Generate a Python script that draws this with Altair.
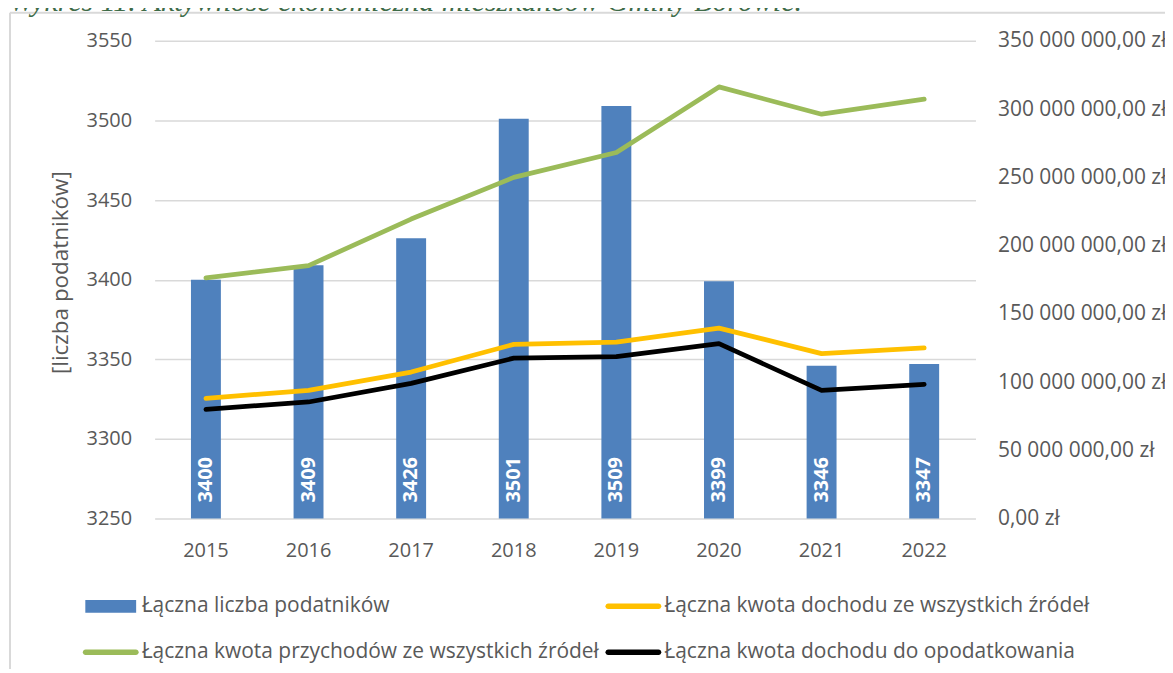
import altair as alt
import pandas as pd

# ---- data ----
years = [2015, 2016, 2017, 2018, 2019, 2020, 2021, 2022]
podatnicy = [3400, 3409, 3426, 3501, 3509, 3399, 3346, 3347]
dochod_wszystkie = [88100000, 93900000, 107300000, 127600000, 129200000, 139500000, 120800000, 125100000]
przychod_wszystkie = [176300000, 185300000, 219400000, 249900000, 268100000, 316200000, 296200000, 307200000]
dochod_opodatk = [80000000, 85400000, 99000000, 117500000, 118600000, 128100000, 93900000, 98300000]

series_names = [
    "Łączna liczba podatników",
    "Łączna kwota dochodu ze wszystkich źródeł",
    "Łączna kwota przychodów ze wszystkich źródeł",
    "Łączna kwota dochodu do opodatkowania",
]
series_colors = ["#4F81BD", "#FFC000", "#9BBB59", "#000000"]
left_ticks = [3250, 3300, 3350, 3400, 3450, 3500, 3550]
right_ticks = [0, 50000000, 100000000, 150000000, 200000000, 250000000, 300000000, 350000000]
title_text = "Wykres 11. Aktywność ekonomiczna mieszkańców Gminy Borowie."
y_title = "[liczba podatników]"

FONT = "Open Sans"
GREY = "#595959"
GRID = "#D9D9D9"

bars_df = pd.DataFrame({"year": years, "count": podatnicy})
lines_df = pd.concat([
    pd.DataFrame({"year": years, "series": series_names[1], "value": dochod_wszystkie}),
    pd.DataFrame({"year": years, "series": series_names[2], "value": przychod_wszystkie}),
    pd.DataFrame({"year": years, "series": series_names[3], "value": dochod_opodatk}),
], ignore_index=True)
legend_df = pd.DataFrame({"series": series_names})

x_enc = alt.X("year:O", title=None,
              scale=alt.Scale(paddingInner=0, paddingOuter=0),
              axis=alt.Axis(labelFont=FONT, labelFontSize=20, labelColor=GREY, labelAngle=0,
                            labelPadding=22, ticks=False, domain=False, grid=False))

y_left_scale = alt.Scale(domain=[3250, 3550], zero=False, nice=False)

bars = alt.Chart(bars_df).mark_bar(size=30, color="#4F81BD").encode(
    x=x_enc,
    y=alt.Y("count:Q", scale=y_left_scale,
            axis=alt.Axis(title=y_title, values=left_ticks, format="d", labelFont=FONT,
                          labelFontSize=20, labelColor=GREY, labelPadding=23, ticks=False,
                          domain=False, grid=True, gridColor=GRID, gridWidth=1.5,
                          titleFont=FONT, titleFontSize=22.5, titleFontWeight="normal",
                          titleColor=GREY, titleX=-94, titleY=232, titleBaseline="middle")),
    y2=alt.datum(3250),
)

bar_text = alt.Chart(bars_df).mark_text(
    angle=270, align="left", baseline="middle", dx=16,
    font=FONT, fontSize=20, fontWeight="bold", color="white"
).encode(
    x=alt.X("year:O"),
    y=alt.datum(3250, scale=y_left_scale),
    text=alt.Text("count:Q", format="d"),
)

left = alt.layer(bars, bar_text)

lines = alt.Chart(lines_df).mark_line(strokeWidth=4.75, strokeCap="round", strokeJoin="round").encode(
    x=alt.X("year:O"),
    y=alt.Y("value:Q", scale=alt.Scale(domain=[0, 350000000], nice=False),
            axis=alt.Axis(orient="right", title=None, values=right_ticks, labelFont=FONT,
                          labelFontSize=21, labelColor=GREY, labelPadding=22, ticks=False,
                          domain=False, grid=False,
                          labelExpr="replace(replace(format(datum.value, ',.2f'), regexp(',', 'g'), ' '), '.', ',') + ' zł'")),
    stroke=alt.Stroke("series:N", scale=alt.Scale(domain=series_names[1:], range=series_colors[1:]),
                      legend=None),
    order=alt.Order("year:O"),
)

rect_path = "M-0.91,-0.23L0.91,-0.23L0.91,0.23L-0.91,0.23Z"
line_path = "M-0.9,-0.1L0.9,-0.1A0.1,0.1 0 0 1 0.9,0.1L-0.9,0.1A0.1,0.1 0 0 1 -0.9,-0.1Z"

leg = alt.Legend(title=None, orient="none", legendX=-72, legendY=539, columns=2,
                 direction="horizontal",
                 symbolSize=3136, symbolStrokeWidth=0, symbolOpacity=1,
                 labelFont=FONT, labelFontSize=21, labelColor=GREY, labelLimit=1000,
                 labelOffset=3, columnPadding=6, rowPadding=8, padding=0)

legend_layer = alt.Chart(legend_df).mark_point(filled=True, clip=True).encode(
    x=alt.value(-500), y=alt.value(-500),
    color=alt.Color("series:N", scale=alt.Scale(domain=series_names, range=series_colors), legend=leg),
    shape=alt.Shape("series:N", scale=alt.Scale(domain=series_names,
                                                 range=[rect_path, line_path, line_path, line_path]),
                    legend=leg),
)

frame_df = pd.DataFrame({"k": [0]})
frame_left = alt.Chart(frame_df).mark_rule(color=GRID, strokeWidth=2).encode(
    x=alt.value(-145), y=alt.value(-28), y2=alt.value(660))
frame_top = alt.Chart(frame_df).mark_rule(color=GRID, strokeWidth=2).encode(
    x=alt.value(-145), x2=alt.value(1020), y=alt.value(-28))

title_df = pd.DataFrame({"t": [title_text]})
title_mark = alt.Chart(title_df).mark_text(
    align="left", baseline="alphabetic", font="Liberation Serif", fontStyle="italic",
    fontSize=30, color="#3E6B48"
).encode(text="t:N", x=alt.value(-146), y=alt.value(-30))

chart = alt.layer(left, lines, legend_layer, frame_left, frame_top, title_mark).resolve_scale(
    y="independent"
).properties(
    width=823, height=479,
    autosize=alt.AutoSizeParams(type="none"),
    padding={"left": 147, "top": 32, "right": 190, "bottom": 150},
).configure_view(stroke=None)

chart.save("out.html", embed_options={"renderer": "svg", "actions": False})
